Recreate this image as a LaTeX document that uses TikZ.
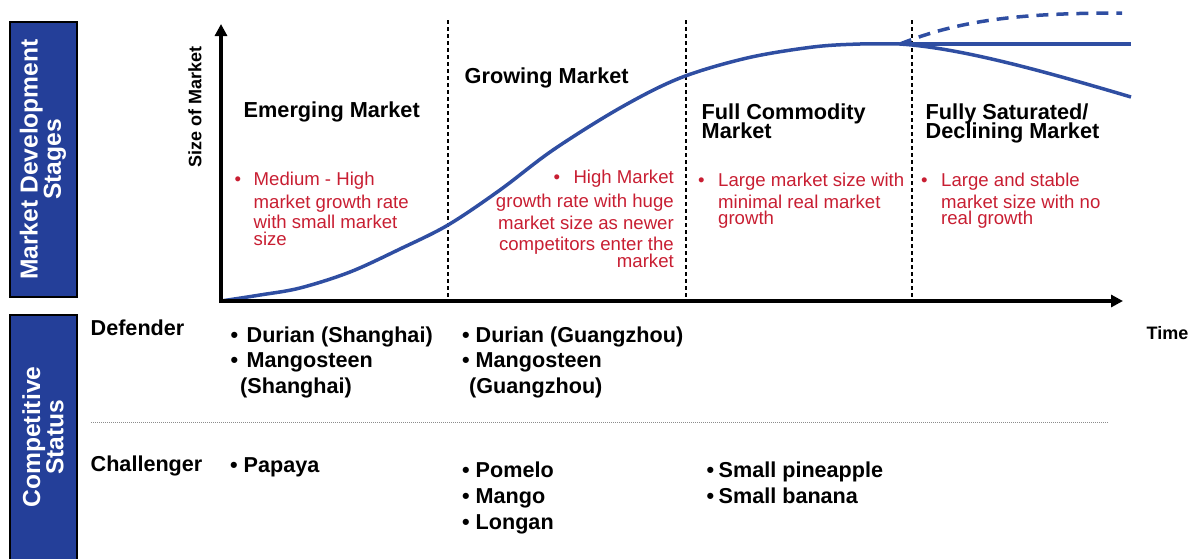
\documentclass[tikz,border=0pt]{standalone}
\usepackage{fontspec}
\setmainfont{Liberation Sans}
\usetikzlibrary{arrows.meta}
\definecolor{boxblue}{RGB}{36,63,153}
\definecolor{curveblue}{RGB}{47,78,162}
\definecolor{txtred}{RGB}{200,30,50}
\definecolor{sepgray}{RGB}{140,140,140}
\tikzset{
 lbl/.style={inner sep=0pt, anchor=base west},
 head/.style={lbl, font=\fontsize{21.7}{19}\selectfont\bfseries},
 redtxt/.style={lbl, text=txtred, font=\fontsize{18.6}{20}\selectfont},
 redr/.style={redtxt, anchor=base east},
 item/.style={lbl, font=\fontsize{21.6}{26}\selectfont\bfseries},
 sidebox/.style={fill=boxblue, draw=black, line width=1.2pt},
 sidelbl/.style={rotate=90, align=center, text=white, font=\fontsize{24.6}{21.6}\selectfont\bfseries, inner sep=0pt},
 axis/.style={line width=3.5pt, -{Triangle[length=12pt,width=12pt]}},
 divider/.style={line width=1.2pt, dash pattern=on 4pt off 3pt},
 curve/.style={curveblue, line width=3.5pt},
 sep/.style={sepgray, line width=1pt, dash pattern=on 1pt off 1pt},
}
\begin{document}
\begin{tikzpicture}[x=1pt,y=-1pt]
\useasboundingbox (0,0) rectangle (1194,558);
% side boxes
\draw[sidebox] (10,22) rectangle (77,297);
\node[sidelbl] (mds) at (43,159.5) {Market Development\\Stages};
\begin{scope}
\clip (0,0) rectangle (1194,558);
\draw[sidebox] (10,315) rectangle (77,565);
\end{scope}
\node[sidelbl] (cs) at (43,437) {Competitive\\Status};
% dividers
\draw[divider] (448,20) -- (448,300);
\draw[divider] (686,20) -- (686,300);
\draw[divider] (912,20) -- (912,300);
% curves
\draw[curve] plot[smooth, tension=0.55] coordinates {(221,301) (260,295) (300,288) (350,272) (400,249) (448,225) (500,190) (553,150) (620,108) (680,78) (747,58) (813,47) (860,44) (900,44)};
\draw[curve] (900,44) -- (1131,44);
\draw[curve] (900,44) .. controls (960,48) and (1040,70) .. (1131,97);
\draw[curve, dash pattern=on 12pt off 8pt] (900,44) .. controls (960,20) and (1020,13) .. (1122,13);
% axes
\draw[axis] (221,303) -- (221,24);
\draw[axis] (219,301) -- (1123,301);
\node[rotate=90, inner sep=0pt, font=\fontsize{18}{20}\selectfont\bfseries] (size) at (195,106.5) {Size of Market};
\node[lbl, font=\fontsize{18}{20}\selectfont\bfseries] (time) at (1146.5,339) {Time};
% headings
\node[head] (h1) at (243.5,117) {Emerging Market};
\node[head] (h2) at (464.5,83) {Growing Market};
\node[head] (h3a) at (701.5,119) {Full Commodity};
\node[head] (h3b) at (701.5,138) {Market};
\node[head] (h4a) at (925.5,119) {Fully Saturated/};
\node[head] (h4b) at (925.5,138) {Declining Market};
% red descriptions
\node[redtxt] (b1) at (234.5,185) {•};
\node[redtxt] (r1a) at (253.5,185) {Medium - High};
\node[redtxt] (r1b) at (253.5,208) {market growth rate};
\node[redtxt] (r1c) at (253.5,228) {with small market};
\node[redtxt] (r1d) at (253.5,245) {size};
\node[redtxt] (b2) at (553.5,183) {•};
\node[redr] (r2a) at (674,183) {High Market};
\node[redr] (r2b) at (674,207) {growth rate with huge};
\node[redr] (r2c) at (674,229) {market size as newer};
\node[redr] (r2d) at (674,250) {competitors enter the};
\node[redr] (r2e) at (674,267) {market};
\node[redtxt] (b3) at (698,186) {•};
\node[redtxt] (r3a) at (718,186) {Large market size with};
\node[redtxt] (r3b) at (718,208) {minimal real market};
\node[redtxt] (r3c) at (718,224) {growth};
\node[redtxt] (b4) at (921,186) {•};
\node[redtxt] (r4a) at (941,186) {Large and stable};
\node[redtxt] (r4b) at (941,208) {market size with no};
\node[redtxt] (r4c) at (941,224) {real growth};
% competitive status
\node[item] (def) at (90.5,335) {Defender};
\node[item] (cha) at (90.5,471) {Challenger};
\draw[sep] (91,422) -- (1108,422);
\node[item] (d1b) at (230.5,342) {•};
\node[item] (d1) at (246.5,342) {Durian (Shanghai)};
\node[item] (d2b) at (230.5,367) {•};
\node[item] (d2) at (246.5,367) {Mangosteen};
\node[item] (d2c) at (240,393) {(Shanghai)};
\node[item] (g1b) at (462,342) {•};
\node[item] (g1) at (475.5,342) {Durian (Guangzhou)};
\node[item] (g2b) at (462,367) {•};
\node[item] (g2) at (475.5,367) {Mangosteen};
\node[item] (g2c) at (469,393) {(Guangzhou)};
\node[item] (c1b) at (230,472) {•};
\node[item] (c1) at (243.5,472) {Papaya};
\node[item] (p1b) at (462,477) {•};
\node[item] (p1) at (475.5,477) {Pomelo};
\node[item] (p2b) at (462,503) {•};
\node[item] (p2) at (475.5,503) {Mango};
\node[item] (p3b) at (462,529) {•};
\node[item] (p3) at (475.5,529) {Longan};
\node[item] (s1b) at (706.5,477) {•};
\node[item] (s1) at (718.5,477) {Small pineapple};
\node[item] (s2b) at (706.5,503) {•};
\node[item] (s2) at (718.5,503) {Small banana};
\end{tikzpicture}
\end{document}
